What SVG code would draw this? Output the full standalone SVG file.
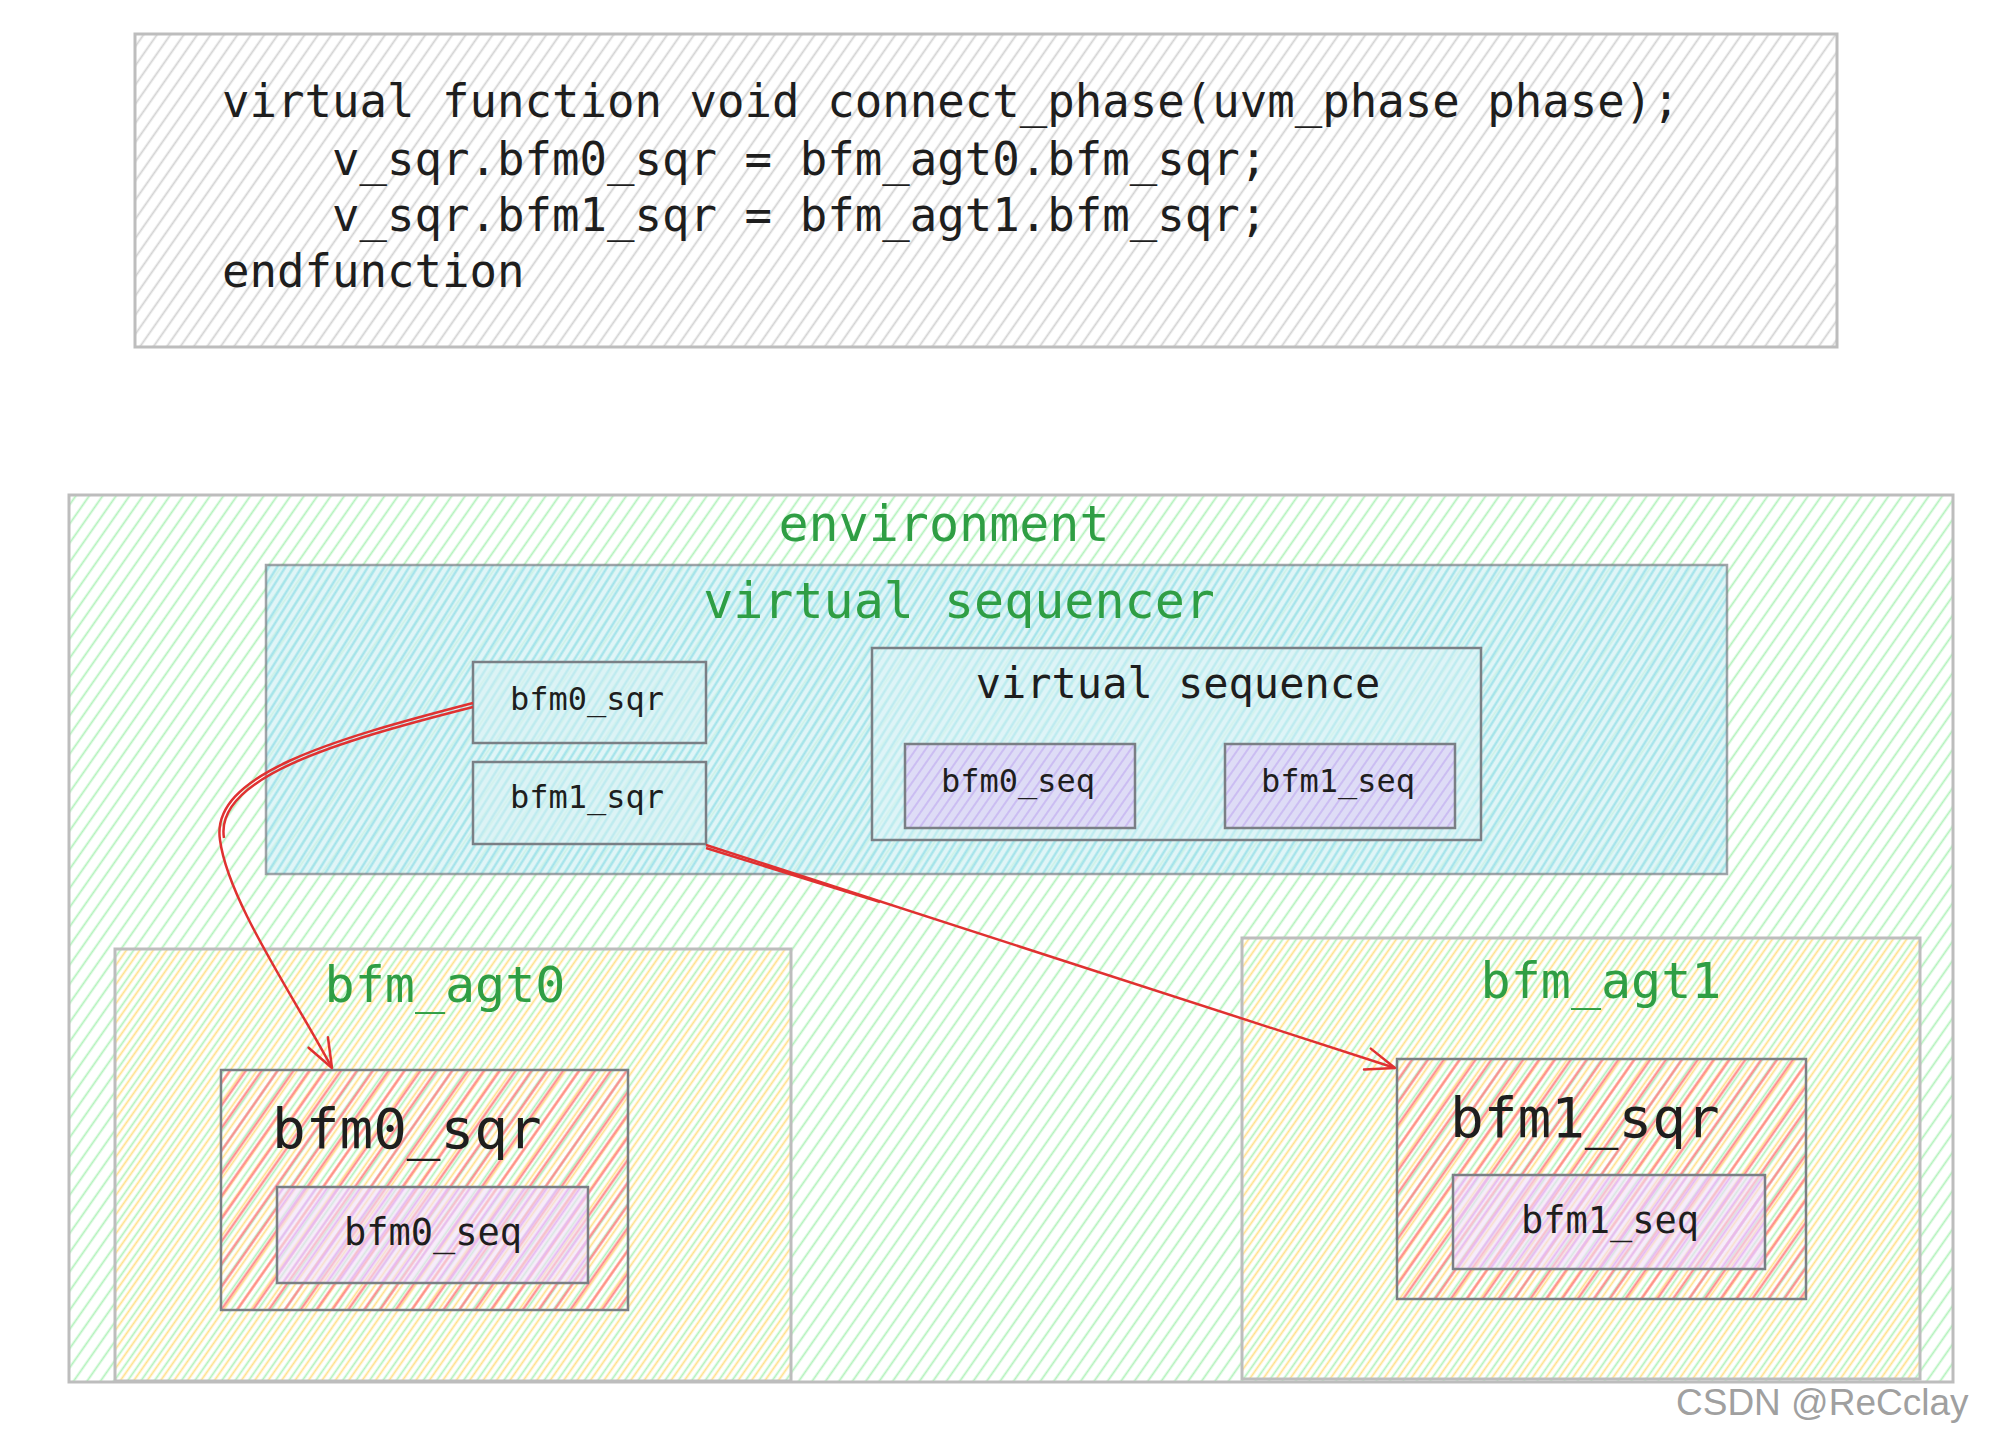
<svg xmlns="http://www.w3.org/2000/svg" width="2000" height="1445" viewBox="0 0 2000 1445">
<style>
.mono{font-family:"DejaVu Sans Mono","Liberation Mono",monospace;}
.code{font-size:45.7px;fill:#1e1e1e;}
.title{font-size:50px;fill:#2f9e44;text-anchor:middle;}
.small{font-size:32px;fill:#1e1e1e;text-anchor:middle;}
.big{font-size:56px;fill:#1e1e1e;}
.mid{font-size:37px;fill:#1e1e1e;text-anchor:middle;}
.box{fill:none;stroke:#7a7f85;stroke-width:2.5;}
.lbox{fill:none;stroke:#bdbdbd;stroke-width:3;}
.conn{fill:none;stroke:#e03131;stroke-width:2.5;}
</style>
<defs>
<pattern id="hGray" width="11" height="11" patternUnits="userSpaceOnUse" patternTransform="rotate(35)"><line x1="5.5" y1="0" x2="5.5" y2="11" stroke="#d2d2d2" stroke-width="1.8"/></pattern>
<pattern id="hGreen" width="11" height="11" patternUnits="userSpaceOnUse" patternTransform="rotate(35)"><line x1="5.5" y1="0" x2="5.5" y2="11" stroke="#b2f2bb" stroke-width="1.8"/></pattern>
<pattern id="hCyan" width="7" height="7" patternUnits="userSpaceOnUse" patternTransform="rotate(32)"><line x1="3.5" y1="0" x2="3.5" y2="7" stroke="#9fe2ea" stroke-width="2.2"/></pattern>
<pattern id="hPurple" width="8" height="8" patternUnits="userSpaceOnUse" patternTransform="rotate(35)"><line x1="4" y1="0" x2="4" y2="8" stroke="#cbbdf2" stroke-width="2"/></pattern>
<pattern id="hYellow" width="11" height="11" patternUnits="userSpaceOnUse" patternTransform="rotate(35) translate(5 0)"><line x1="5.5" y1="0" x2="5.5" y2="11" stroke="#ffe08a" stroke-width="1.8"/></pattern>
<pattern id="hRed" width="13" height="13" patternUnits="userSpaceOnUse" patternTransform="rotate(35) translate(3 0)"><line x1="6.5" y1="0" x2="6.5" y2="13" stroke="#ff8787" stroke-width="2.2"/></pattern>
<pattern id="hPink" width="9" height="9" patternUnits="userSpaceOnUse" patternTransform="rotate(35)"><line x1="4.5" y1="0" x2="4.5" y2="9" stroke="#e6b8f2" stroke-width="2"/></pattern>
<marker id="arr" viewBox="-32 -14 36 28" markerWidth="36" markerHeight="28" refX="0" refY="0" orient="auto" markerUnits="userSpaceOnUse"><path d="M-29,-11 L0,0 L-29,11" fill="none" stroke="#e03131" stroke-width="2.5" stroke-linecap="round" stroke-linejoin="round"/></marker>
</defs>
<rect width="2000" height="1445" fill="#ffffff"/>

<g id="code">
<rect x="135" y="34" width="1702" height="313" fill="url(#hGray)"/>
<rect x="135" y="34" width="1702" height="313" class="lbox"/>
<text class="mono code" x="222" y="117" xml:space="preserve">virtual function void connect_phase(uvm_phase phase);</text>
<text class="mono code" x="222" y="175" xml:space="preserve">    v_sqr.bfm0_sqr = bfm_agt0.bfm_sqr;</text>
<text class="mono code" x="222" y="231" xml:space="preserve">    v_sqr.bfm1_sqr = bfm_agt1.bfm_sqr;</text>
<text class="mono code" x="222" y="287" xml:space="preserve">endfunction</text>
</g>

<g id="environment">
<rect x="69" y="495" width="1884" height="887" fill="url(#hGreen)"/>
<rect x="69" y="495" width="1884" height="887" class="lbox"/>
<text class="mono title" x="944" y="541">environment</text>
</g>

<g id="virtual_sequencer">
<rect x="266" y="565" width="1461" height="309" fill="#d6f2f4" opacity="0.75"/>
<rect x="266" y="565" width="1461" height="309" fill="url(#hCyan)"/>
<rect x="266" y="565" width="1461" height="309" class="box" stroke-opacity="0.7"/>
<text class="mono title" x="959" y="618">virtual sequencer</text>
</g>

<g id="v_bfm0_sqr">
<rect x="473" y="662" width="233" height="81" fill="#d8f2f4" opacity="0.5"/>
<rect x="473" y="662" width="233" height="81" class="box"/>
<text class="mono small" x="587" y="710">bfm0_sqr</text>
</g>

<g id="v_bfm1_sqr">
<rect x="473" y="762" width="233" height="82" fill="#d8f2f4" opacity="0.5"/>
<rect x="473" y="762" width="233" height="82" class="box"/>
<text class="mono small" x="587" y="808">bfm1_sqr</text>
</g>

<g id="virtual_sequence">
<rect x="872" y="648" width="609" height="192" fill="#dcf4f6" opacity="0.45"/>
<rect x="872" y="648" width="609" height="192" class="box"/>
<text class="mono" x="1178" y="698" font-size="42" fill="#1e1e1e" text-anchor="middle">virtual sequence</text>
</g>

<g id="vs_bfm0_seq">
<rect x="905" y="744" width="230" height="84" fill="#dedcf6"/>
<rect x="905" y="744" width="230" height="84" fill="url(#hPurple)"/>
<rect x="905" y="744" width="230" height="84" class="box"/>
<text class="mono small" x="1018" y="792">bfm0_seq</text>
</g>

<g id="vs_bfm1_seq">
<rect x="1225" y="744" width="230" height="84" fill="#dedcf6"/>
<rect x="1225" y="744" width="230" height="84" fill="url(#hPurple)"/>
<rect x="1225" y="744" width="230" height="84" class="box"/>
<text class="mono small" x="1338" y="792">bfm1_seq</text>
</g>

<g id="bfm_agt0">
<rect x="115" y="949" width="676" height="432" fill="url(#hYellow)"/>
<rect x="115" y="949" width="676" height="432" class="lbox" stroke="#b5b5b5"/>
<text class="mono title" x="445" y="1002">bfm_agt0</text>
</g>

<g id="bfm0_sqr">
<rect x="221" y="1070" width="407" height="240" fill="url(#hRed)"/>
<rect x="221" y="1070" width="407" height="240" class="box" stroke-width="3"/>
<text class="mono big" x="272" y="1148">bfm0_sqr</text>
</g>

<g id="bfm0_seq">
<rect x="277" y="1187" width="311" height="96" fill="#f1e0f8" opacity="0.6"/>
<rect x="277" y="1187" width="311" height="96" fill="url(#hPink)"/>
<rect x="277" y="1187" width="311" height="96" class="box"/>
<text class="mono mid" x="433" y="1245">bfm0_seq</text>
</g>

<g id="bfm_agt1">
<rect x="1242" y="938" width="678" height="441" fill="url(#hYellow)"/>
<rect x="1242" y="938" width="678" height="441" class="lbox" stroke="#b5b5b5"/>
<text class="mono title" x="1601" y="998">bfm_agt1</text>
</g>

<g id="bfm1_sqr">
<rect x="1397" y="1059" width="409" height="240" fill="url(#hRed)"/>
<rect x="1397" y="1059" width="409" height="240" class="box" stroke-width="3"/>
<text class="mono big" x="1450" y="1137">bfm1_sqr</text>
</g>

<g id="bfm1_seq">
<rect x="1453" y="1175" width="312" height="94" fill="#f1e0f8" opacity="0.6"/>
<rect x="1453" y="1175" width="312" height="94" fill="url(#hPink)"/>
<rect x="1453" y="1175" width="312" height="94" class="box"/>
<text class="mono mid" x="1610" y="1233">bfm1_seq</text>
</g>

<g id="connectors">
<path class="conn" d="M473,703 C330,740 210,775 220,840 C228,900 290,990 332,1068" marker-end="url(#arr)"/>
<path class="conn" d="M473,707 C335,742 214,778 224,838" stroke-width="1.5"/>
<path class="conn" d="M706,845 L1395,1068" marker-end="url(#arr)"/>
<path class="conn" d="M706,848 L880,902" stroke-width="1.5"/>
</g>

<text x="1676" y="1415" font-family="Liberation Sans, Arial, sans-serif" font-size="37" fill="#a0a0a0">CSDN @ReCclay</text>
</svg>
